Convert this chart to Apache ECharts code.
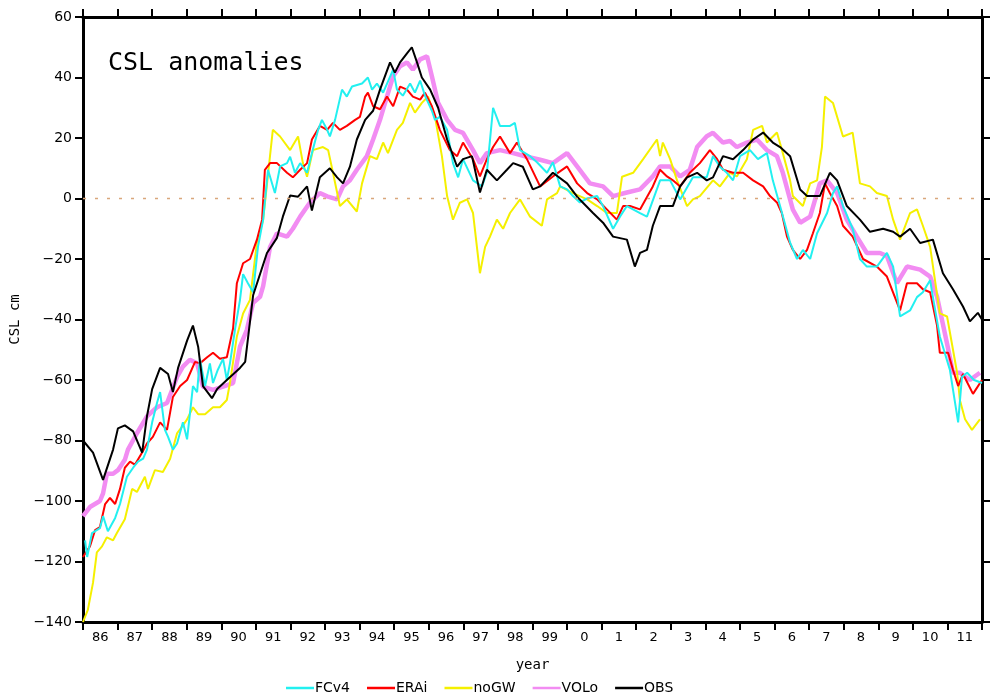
<!DOCTYPE html>
<html>
<head>
<meta charset="utf-8">
<title>CSL anomalies</title>
<script src="https://cdn.jsdelivr.net/npm/echarts@6/dist/echarts.min.js"></script>
<style>
  html, body { margin: 0; padding: 0; background: #fff; }
  #chart { width: 990px; height: 699px; }
</style>
</head>
<body>
<div id="chart"></div>
<script>
// year labels, centred on each year band
const yearLabels = ["86","87","88","89","90","91","92","93","94","95","96","97","98","99",
  "0","1","2","3","4","5","6","7","8","9","10","11"];

// [decimal year, CSL anomaly cm]
const FCv4 = [
  [1986.06,-113],[1986.12,-118.5],[1986.26,-110.6],[1986.49,-109],[1986.58,-105],[1986.72,-110],
  [1986.93,-105.6],[1987.07,-101],[1987.27,-92],[1987.45,-89],[1987.59,-87],[1987.74,-86],
  [1987.85,-83],[1988.00,-74],[1988.14,-67.6],[1988.23,-64],[1988.37,-76.5],[1988.46,-78.8],
  [1988.60,-83],[1988.72,-81],[1988.89,-74],[1989.01,-79.6],[1989.18,-62],[1989.30,-64],
  [1989.38,-53],[1989.53,-62],[1989.67,-54.5],[1989.76,-61],[1989.90,-56.6],[1990.05,-53],
  [1990.16,-60],[1990.25,-54.5],[1990.40,-43],[1990.54,-33.5],[1990.63,-25],[1990.77,-28],
  [1990.92,-31],[1991.06,-16],[1991.21,-7],[1991.35,9.5],[1991.55,1.8],[1991.70,10.6],
  [1991.90,11.7],[1991.99,13.8],[1992.13,8.5],[1992.28,11.7],[1992.48,8.5],[1992.62,15],
  [1992.80,22.7],[1992.91,26],[1993.06,22.7],[1993.14,20.5],[1993.29,26],[1993.49,36],
  [1993.63,33.7],[1993.78,37],[1994.07,38],[1994.24,40],[1994.36,36],[1994.50,38],
  [1994.68,35],[1994.97,42.6],[1995.08,36],[1995.25,34],[1995.46,38],[1995.60,35],
  [1995.75,39],[1995.89,34],[1996.09,29],[1996.18,26],[1996.32,27],[1996.53,22.7],
  [1996.70,11.7],[1996.85,7],[1996.99,13],[1997.28,6],[1997.54,4],[1997.68,8.5],
  [1997.86,30],[1998.06,24],[1998.35,24],[1998.49,25],[1998.64,16],[1998.93,14],
  [1999.13,12],[1999.42,8.5],[1999.59,12],[1999.80,4],[2000.00,3],[2000.17,0.8],
  [2000.37,-1.3],[2000.58,0],[2000.87,0.8],[2001.04,-2.5],[2001.33,-10],[2001.53,-6],
  [2001.73,-2.5],[2002.11,-4.8],[2002.31,-6],[2002.69,6],[2002.98,6],[2003.27,-0.3],
  [2003.64,7],[2004.04,7],[2004.22,14],[2004.42,10.5],[2004.62,8.5],[2004.80,6],
  [2005.00,14],[2005.29,16],[2005.52,13],[2005.78,15],[2005.95,6],[2006.16,-2.5],
  [2006.45,-14.6],[2006.65,-20],[2006.82,-17],[2007.03,-20],[2007.23,-11.5],[2007.52,-4.8],
  [2007.69,1.8],[2007.81,4],[2007.98,-2.5],[2008.26,-10],[2008.47,-20],[2008.67,-22.5],
  [2008.96,-22.5],[2009.25,-18],[2009.43,-22.5],[2009.63,-39],[2009.92,-37],[2010.12,-32.6],
  [2010.29,-31],[2010.50,-27],[2010.58,-32.6],[2010.78,-45.6],[2011.07,-56.6],[2011.31,-74],
  [2011.42,-59],[2011.57,-57.6],[2011.77,-60],[2012.00,-61]
];

const ERAi = [
  [1986.00,-118.5],[1986.20,-115],[1986.35,-109.6],[1986.49,-108.6],[1986.64,-101],[1986.78,-99],
  [1986.93,-101],[1987.07,-96],[1987.21,-89],[1987.36,-87],[1987.50,-88],[1987.71,-84],
  [1987.85,-81],[1988.02,-78.8],[1988.23,-74],[1988.43,-76.5],[1988.60,-65.6],[1988.81,-62],
  [1989.01,-60],[1989.24,-54],[1989.38,-54.5],[1989.59,-52.5],[1989.76,-51],[1989.96,-53],
  [1990.16,-52.5],[1990.34,-43],[1990.45,-28],[1990.63,-21.4],[1990.83,-20],[1991.03,-13.6],
  [1991.18,-7],[1991.26,9.5],[1991.41,11.7],[1991.61,11.7],[1991.90,8.5],[1992.07,7],
  [1992.28,9.5],[1992.48,11.7],[1992.62,19.5],[1992.85,24],[1993.06,22.7],[1993.23,25],
  [1993.43,22.7],[1993.63,24],[1993.87,26],[1994.01,27],[1994.16,33.7],[1994.24,35],
  [1994.39,30.5],[1994.59,29.5],[1994.79,33.7],[1994.97,30.5],[1995.17,37],[1995.37,36],
  [1995.54,33.7],[1995.75,32.7],[1995.89,35],[1996.09,30.5],[1996.32,22.7],[1996.61,16],
  [1996.82,14],[1996.99,18.5],[1997.28,13],[1997.48,7.3],[1997.68,13],[1997.86,17],
  [1998.06,20.5],[1998.35,15],[1998.55,18.5],[1998.84,13],[1999.22,4],[1999.59,7.3],
  [2000.00,10.6],[2000.29,5],[2000.58,1.8],[2000.87,-0.3],[2001.15,-3.6],[2001.44,-7],
  [2001.62,-2.5],[2001.82,-2.5],[2002.11,-3.6],[2002.48,4],[2002.69,9.5],[2002.89,7.3],
  [2003.06,6],[2003.27,4],[2003.55,8.5],[2003.84,11.7],[2004.13,16],[2004.34,13],
  [2004.51,9.5],[2004.80,8.5],[2005.09,8.5],[2005.38,6],[2005.67,4],[2005.87,0.8],
  [2006.07,-1.3],[2006.21,-4.8],[2006.36,-12.6],[2006.53,-17],[2006.74,-20],[2006.94,-17],
  [2007.11,-11.5],[2007.31,-4.8],[2007.46,5],[2007.60,1.8],[2007.81,-2.5],[2007.98,-9],
  [2008.26,-12.6],[2008.56,-20],[2008.96,-22.5],[2009.25,-25.8],[2009.63,-37],[2009.83,-28],
  [2010.12,-28],[2010.29,-30],[2010.50,-31],[2010.70,-42],[2010.78,-51],[2011.02,-51],
  [2011.16,-56.6],[2011.31,-62],[2011.45,-58],[2011.74,-64.6],[2012.00,-60]
];

const noGW = [
  [1986.00,-140],[1986.14,-136],[1986.29,-127],[1986.40,-117],[1986.55,-115],[1986.69,-112],
  [1986.87,-113],[1986.98,-110.6],[1987.21,-106],[1987.42,-96],[1987.56,-97],[1987.79,-92],
  [1987.88,-96],[1988.08,-89.8],[1988.31,-90.4],[1988.52,-86],[1988.72,-77.6],[1988.86,-75.5],
  [1989.01,-73],[1989.18,-69],[1989.33,-71.3],[1989.53,-71.3],[1989.76,-69],[1989.96,-69],
  [1990.16,-66.6],[1990.25,-61],[1990.45,-45.6],[1990.63,-38],[1990.83,-33.5],[1991.03,-14.6],
  [1991.21,-7],[1991.49,22.7],[1991.70,20.5],[1991.99,16],[1992.22,20.5],[1992.36,11.7],
  [1992.48,7.2],[1992.65,16],[1992.94,17],[1993.09,16],[1993.23,8.5],[1993.43,-2.5],
  [1993.63,-0.3],[1993.92,-4.3],[1994.07,5],[1994.30,14],[1994.50,13],[1994.68,18.5],
  [1994.82,15],[1995.08,22.7],[1995.25,25],[1995.46,31.6],[1995.60,28.4],[1995.80,31.6],
  [1995.98,33.7],[1996.18,27],[1996.38,14],[1996.53,0.8],[1996.70,-7],[1996.90,-1.4],
  [1997.11,-0.3],[1997.28,-4.8],[1997.48,-24.7],[1997.63,-16],[1997.77,-12.6],[1997.97,-7],
  [1998.15,-10],[1998.35,-4.8],[1998.64,-0.3],[1998.93,-6],[1999.27,-9],[1999.42,-0.3],
  [1999.71,1.8],[1999.80,4],[2000.17,1.8],[2000.58,-0.3],[2000.87,-2.5],[2001.15,-4.8],
  [2001.44,-4.8],[2001.59,7.2],[2001.91,8.5],[2002.20,13],[2002.60,19.5],[2002.69,14],
  [2002.77,18.5],[2002.98,13],[2003.18,6],[2003.47,-2.5],[2003.64,-0.3],[2003.84,0.8],
  [2004.22,6],[2004.42,4],[2004.71,8.5],[2004.91,7.3],[2005.20,13],[2005.38,22.7],
  [2005.64,24],[2005.78,18.5],[2006.07,21.8],[2006.24,15],[2006.45,6],[2006.53,0.8],
  [2006.82,-2.5],[2007.03,5],[2007.23,6],[2007.37,17],[2007.46,33.7],[2007.69,31.6],
  [2007.98,20.5],[2008.26,21.8],[2008.47,5],[2008.76,4],[2008.96,1.8],[2009.25,0.8],
  [2009.43,-7],[2009.63,-13.6],[2009.92,-4.8],[2010.12,-3.6],[2010.29,-9],[2010.50,-16],
  [2010.78,-38],[2010.99,-39],[2011.28,-57.6],[2011.36,-66.6],[2011.51,-73],[2011.71,-76.5],
  [2011.94,-73]
];

const VOLo = [
  [1986.00,-105],[1986.20,-102],[1986.49,-100],[1986.58,-97.5],[1986.69,-91],[1986.87,-91],
  [1987.01,-89.8],[1987.21,-86.4],[1987.30,-83],[1987.56,-77.6],[1987.85,-72],[1988.14,-69],
  [1988.43,-67.6],[1988.72,-59],[1988.89,-55.6],[1989.09,-53.3],[1989.30,-54.5],[1989.47,-62.2],
  [1989.76,-63.3],[1990.05,-62.2],[1990.34,-61],[1990.54,-49],[1990.74,-43.4],[1990.92,-34.5],
  [1991.12,-32.5],[1991.21,-29],[1991.41,-16],[1991.61,-11.5],[1991.90,-12.6],[1992.07,-10],
  [1992.28,-6],[1992.56,-1.4],[1992.85,1.8],[1993.06,0.7],[1993.35,-0.3],[1993.52,4],
  [1993.72,6],[1993.92,9.5],[1994.21,14],[1994.39,19.5],[1994.59,26],[1994.79,33.7],
  [1994.97,40.4],[1995.17,43.7],[1995.37,45],[1995.54,42.6],[1995.75,46],[1995.95,47],
  [1996.09,40.4],[1996.27,31.6],[1996.53,26],[1996.76,22.7],[1996.99,21.7],[1997.28,16],
  [1997.48,11.7],[1997.68,15],[1998.06,16],[1998.44,15],[1998.84,13.8],[1999.22,12.8],
  [1999.59,11.7],[2000.00,15],[2000.29,10.6],[2000.66,5],[2001.04,4],[2001.33,0.8],
  [2001.73,2],[2002.11,3],[2002.48,7.3],[2002.69,10.6],[2002.98,10.6],[2003.27,7.3],
  [2003.55,9.5],[2003.76,17],[2004.04,20.6],[2004.22,21.7],[2004.51,18.5],[2004.71,19],
  [2004.91,17],[2005.20,18.5],[2005.49,19.5],[2005.78,16],[2006.07,14],[2006.24,8.5],
  [2006.53,-3.7],[2006.74,-8],[2007.03,-6],[2007.31,5],[2007.52,6],[2007.81,1.8],
  [2008.09,-7],[2008.38,-12.6],[2008.67,-18],[2009.05,-18],[2009.25,-19],[2009.54,-28],
  [2009.83,-22.5],[2010.21,-23.5],[2010.50,-25.8],[2010.70,-32.5],[2010.99,-48],[2011.16,-57.6],
  [2011.36,-57.6],[2011.65,-60],[2011.94,-57.6]
];

const OBS = [
  [1986.00,-80],[1986.29,-84],[1986.58,-93],[1986.87,-83],[1987.01,-76],[1987.21,-75],
  [1987.45,-77],[1987.71,-84],[1987.85,-72],[1988.00,-63],[1988.23,-56],[1988.46,-58],
  [1988.60,-64],[1988.75,-56],[1989.01,-47],[1989.18,-42],[1989.33,-49],[1989.47,-62],
  [1989.73,-66],[1989.88,-63],[1990.16,-60],[1990.54,-56],[1990.69,-54],[1990.92,-32],
  [1991.32,-18],[1991.61,-13],[1991.78,-6],[1991.99,1],[1992.22,0.6],[1992.48,4],
  [1992.62,-4],[1992.85,7],[1993.14,10],[1993.35,7],[1993.52,5],[1993.72,10.5],
  [1993.92,19.5],[1994.16,26],[1994.39,29],[1994.59,36],[1994.88,45],[1995.02,41.6],
  [1995.17,45],[1995.37,48],[1995.51,50],[1995.66,45],[1995.80,40],[1996.04,36],
  [1996.27,30],[1996.53,19.5],[1996.82,10.5],[1996.99,13],[1997.25,14],[1997.48,2],
  [1997.68,9.5],[1997.97,6],[1998.26,9.5],[1998.44,11.7],[1998.72,10.5],[1999.01,3],
  [1999.22,4],[1999.59,8.5],[2000.00,5],[2000.29,0.6],[2000.75,-4.8],[2001.04,-8],
  [2001.33,-12.6],[2001.73,-13.6],[2001.96,-22.5],[2002.11,-18],[2002.31,-17],[2002.48,-9],
  [2002.69,-2.5],[2003.06,-2.5],[2003.27,4],[2003.47,7],[2003.76,8.5],[2004.04,6],
  [2004.22,7],[2004.51,14],[2004.80,13],[2005.09,16],[2005.38,19.5],[2005.67,21.8],
  [2005.95,18.5],[2006.16,17],[2006.45,14],[2006.74,3],[2006.94,0.8],[2007.31,0.8],
  [2007.60,8.5],[2007.81,6],[2008.09,-2.5],[2008.47,-7],[2008.76,-11],[2009.14,-10],
  [2009.43,-11],[2009.63,-12.6],[2009.92,-10],[2010.21,-14.7],[2010.58,-13.6],[2010.87,-24.7],
  [2011.16,-30],[2011.45,-35.7],[2011.65,-40.6],[2011.88,-37.8],[2012.00,-40]
];

const chart = echarts.init(document.getElementById("chart"));

const frameLine = { show: true, onZero: false, lineStyle: { color: "#000", width: 3 } };
const frameTick = { show: true, inside: false, length: 8, lineStyle: { color: "#000", width: 2 } };

function minus(v) {
  return v < 0 ? "\u2212" + (-v) : String(v);
}

function line(name, data, color, width) {
  return {
    name: name,
    type: "line",
    xAxisIndex: 2,
    yAxisIndex: 0,
    data: data,
    showSymbol: false,
    symbol: "none",
    lineStyle: { color: color, width: width },
    itemStyle: { color: color },
    emphasis: { disabled: true },
    animation: false
  };
}

const series = [
  line("VOLo", VOLo, "#f28cf2", 4.5),
  line("noGW", noGW, "#f5f000", 2),
  line("ERAi", ERAi, "#ff0000", 2),
  line("FCv4", FCv4, "#22f0f0", 2),
  line("OBS", OBS, "#000000", 2)
];

// dotted zero line
series[0].markLine = {
  silent: true,
  symbol: "none",
  label: { show: false },
  lineStyle: { color: "#d9a77c", width: 1.3, type: [3, 9] },
  data: [{ yAxis: 0 }]
};

chart.setOption({
  animation: false,
  backgroundColor: "#fff",
  title: {
    text: "CSL anomalies",
    left: 103,
    top: 46,
    textStyle: { fontFamily: "DejaVu Sans Mono", fontSize: 25, fontWeight: "normal", color: "#000" }
  },
  grid: { left: 83, right: 8, top: 17, bottom: 77 },
  legend: {
    data: [
      { name: "FCv4", icon: "rect" },
      { name: "ERAi", icon: "rect" },
      { name: "noGW", icon: "rect" },
      { name: "VOLo", icon: "rect" },
      { name: "OBS", icon: "rect" }
    ],
    left: 281,
    top: 676,
    itemWidth: 28,
    itemHeight: 2.5,
    itemGap: 17,
    textStyle: { fontFamily: "DejaVu Sans", fontSize: 14, color: "#000", padding: [0, 0, 0, -4] }
  },
  xAxis: [
    {
      type: "category",
      data: yearLabels,
      position: "bottom",
      boundaryGap: true,
      name: "year",
      nameLocation: "middle",
      nameGap: 36,
      nameTextStyle: { fontFamily: "DejaVu Sans Mono", fontSize: 14, color: "#000" },
      axisLine: frameLine,
      axisTick: frameTick,
      axisLabel: { margin: 9, interval: 0, fontFamily: "DejaVu Sans", fontSize: 13, color: "#000" },
      splitLine: { show: false }
    },
    {
      type: "category",
      data: yearLabels,
      position: "top",
      boundaryGap: true,
      axisLine: frameLine,
      axisTick: frameTick,
      axisLabel: { show: false },
      splitLine: { show: false }
    },
    {
      type: "value",
      min: 1986,
      max: 2012,
      show: false,
      splitLine: { show: false }
    }
  ],
  yAxis: [
    {
      type: "value",
      min: -140,
      max: 60,
      interval: 20,
      position: "left",
      name: "CSL cm",
      nameLocation: "middle",
      nameGap: 49,
      nameTextStyle: { fontFamily: "DejaVu Sans Mono", fontSize: 14, color: "#000" },
      axisLine: frameLine,
      axisTick: frameTick,
      axisLabel: { margin: 11, formatter: minus, fontFamily: "DejaVu Sans", fontSize: 14, color: "#000" },
      splitLine: { show: false }
    },
    {
      type: "value",
      min: -140,
      max: 60,
      interval: 20,
      position: "right",
      axisLine: frameLine,
      axisTick: frameTick,
      axisLabel: { show: false },
      splitLine: { show: false }
    }
  ],
  series: series
});
</script>
</body>
</html>
